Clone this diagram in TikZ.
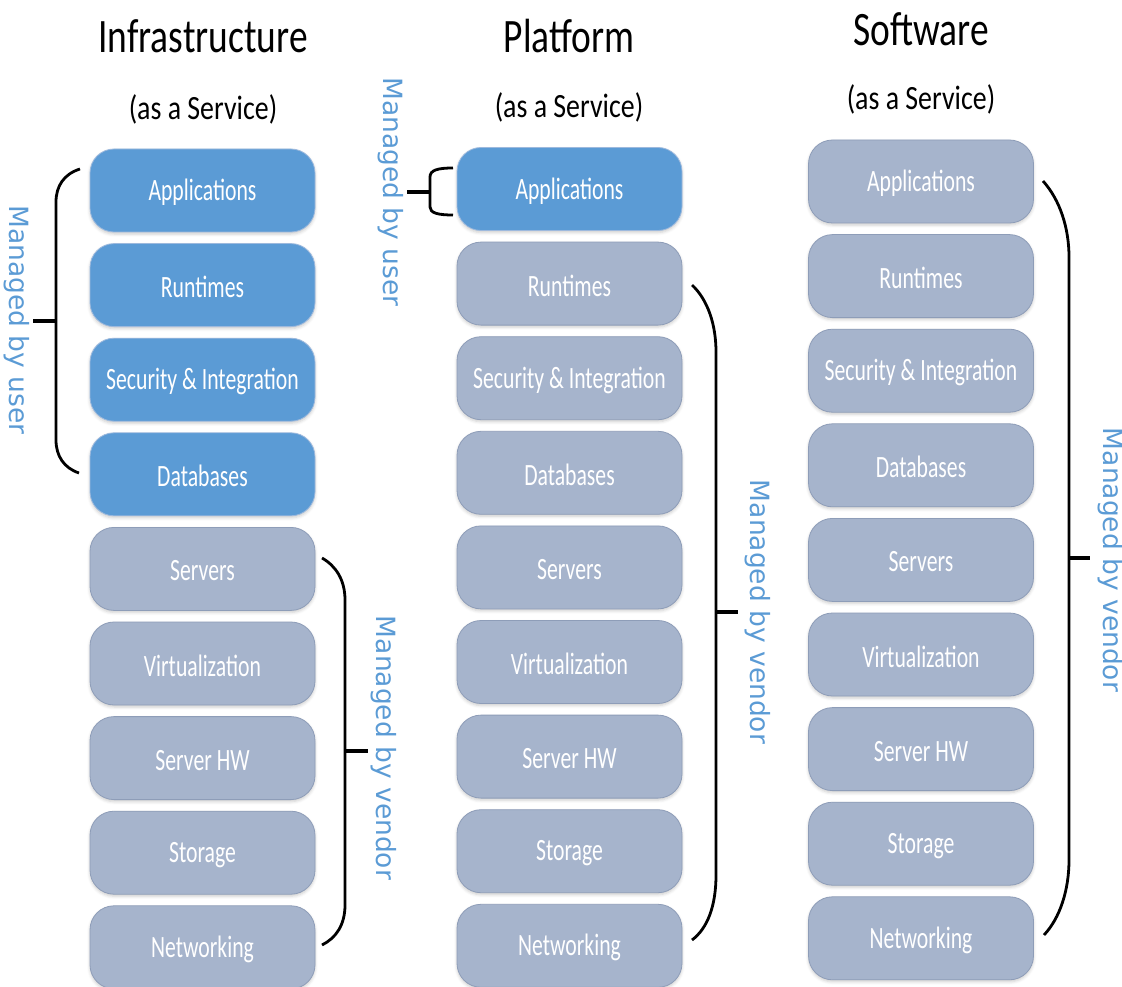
\documentclass[tikz,border=0pt]{standalone}
\usepackage{fontspec}
\setmainfont{Carlito}
\newfontfamily\titlefont[FakeStretch=0.78]{Carlito}
\newfontfamily\subfont[FakeStretch=0.82]{Carlito}
\newfontfamily\layerfont[FakeStretch=0.70]{Carlito}
\newfontfamily\notefont{DejaVu Sans}
\usetikzlibrary{shadows.blur}

\definecolor{userblue}{HTML}{5B9BD5}
\definecolor{vendorgrey}{HTML}{A6B4CC}
\definecolor{greyedge}{HTML}{8E9DB8}
\definecolor{blueedge}{HTML}{9DB9DD}

\tikzset{
  layer/.style={rectangle, rounded corners=24pt, minimum width=225pt,
    minimum height=83pt, inner sep=0pt, text=white,
    font=\layerfont\fontsize{31}{36}\selectfont, line width=0.8pt,
    blur shadow={shadow xshift=0pt, shadow yshift=-2pt,
      shadow blur radius=3pt, shadow opacity=20}},
  userbox/.style={layer, fill=userblue, draw=blueedge},
  vendorbox/.style={layer, fill=vendorgrey, draw=greyedge},
  layertext/.style={text=white, inner sep=0pt,
    font=\layerfont\fontsize{31}{36}\selectfont},
  title/.style={anchor=base, font=\titlefont\fontsize{48}{54}\selectfont},
  subtitle/.style={anchor=base, font=\subfont\fontsize{34}{40}\selectfont},
  note/.style={rotate=-90, text=userblue, inner sep=0pt,
    font=\notefont\fontsize{26.5}{30}\selectfont},
  brace/.style={draw=black, line width=2.8pt},
  bracetick/.style={draw=black, line width=4.5pt},
}

\begin{document}
\begin{tikzpicture}[x=1pt, y=-1pt]
\useasboundingbox (0,0) rectangle (1122,987);

% column headings
\node[title] (t1) at (203,53) {Infrastructure};
\node[subtitle] (s1) at (203,120) {(as a Service)};
\node[title] (t2) at (569,53) {Platform};
\node[subtitle] (s2) at (569,118) {(as a Service)};
\node[title] (t3) at (921,46) {Software};
\node[subtitle] (s3) at (921,110) {(as a Service)};

% the three stacks of layers; the first \nb layers are managed by the user
\foreach \cx/\cy/\nb/\cn in {202.5/190.5/4/a, 569.5/189/1/b, 921/181.5/0/c}{
  \foreach \lbl [count=\i] in {Applications, Runtimes, Security \& Integration,
      Databases, Servers, Virtualization, Server HW, Storage, Networking}{
    \ifnum\i>\nb \def\boxstyle{vendorbox}\else\def\boxstyle{userbox}\fi
    \node[\boxstyle] (\cn\i) at (\cx, {\cy+94.6*(\i-1)}) {};
    \node[layertext] (\cn\i t) at ([yshift=-2pt]\cn\i.center) {\lbl};
  }
}

% brace ends and tick points
\coordinate (au1) at (80,169);   \coordinate (au2) at (79,473);
\coordinate (aut) at (56,321);   \coordinate (aue) at (33,321);
\coordinate (av1) at (322,558);  \coordinate (av2) at (322,945);
\coordinate (avt) at (345,751);  \coordinate (ave) at (368,751);
\coordinate (bu1) at (453,168);  \coordinate (bu2) at (453,215);
\coordinate (but) at (430,192);  \coordinate (bue) at (407,192);
\coordinate (bv1) at (692,285);  \coordinate (bv2) at (692,940);
\coordinate (bvt) at (716,612);  \coordinate (bve) at (738,612);
\coordinate (cv1) at (1043,181); \coordinate (cv2) at (1044,935);
\coordinate (cvt) at (1069,558); \coordinate (cve) at (1090,558);

% Infrastructure braces
\draw[brace] (au1) .. controls (64,174) and (56,186) .. (56,202)
  -- (56,440) .. controls (56,456) and (64,468) .. (au2);
\draw[bracetick] (aue) -- (aut);
\draw[brace] (av1) .. controls (336,566) and (345,580) .. (345,600)
  -- (345,905) .. controls (345,925) and (336,938) .. (av2);
\draw[bracetick] (avt) -- (ave);

% Platform braces
\draw[brace] (bu1) .. controls (438,168) and (430,170) .. (430,177)
  -- (430,207) .. controls (430,213) and (438,215) .. (bu2);
\draw[bracetick] (bue) -- (but);
\draw[brace] (bv1) .. controls (708,300) and (716,325) .. (716,352)
  -- (716,875) .. controls (716,905) and (708,928) .. (bv2);
\draw[bracetick] (bvt) -- (bve);

% Software brace
\draw[brace] (cv1) .. controls (1060,200) and (1069,228) .. (1069,257)
  -- (1069,860) .. controls (1069,890) and (1060,918) .. (cv2);
\draw[bracetick] (cvt) -- (cve);

% brace labels
\node[note] (nau) at (17,320) {Managed by user};
\node[note] (nav) at (384,748) {Managed by vendor};
\node[note] (nbu) at (391,192) {Managed by user};
\node[note] (nbv) at (758,612) {Managed by vendor};
\node[note] (ncv) at (1111,560) {Managed by vendor};
\end{tikzpicture}
\end{document}
